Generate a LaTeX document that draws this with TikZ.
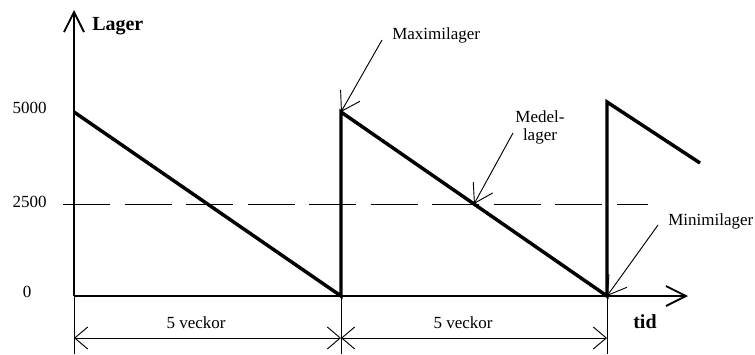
\documentclass[tikz,border=0pt]{standalone}
\usepackage{fontspec}
\setmainfont{Liberation Serif}
\usetikzlibrary{arrows.meta}
\begin{document}
\begin{tikzpicture}[x=0.75pt,y=-0.75pt,
  axis/.style={line width=1.4pt},
  axisarrow/.style={axis,-{Straight Barb[length=15pt,width=15pt]}},
  stock/.style={line width=2.6pt,line join=miter},
  thin/.style={line width=0.7pt},
  level/.style={thin,dash pattern=on 35.25pt off 10.9pt},
  callout/.style={thin,-{Straight Barb[length=13.4pt,width=16.7pt]}},
  dimline/.style={thin,{Straight Barb[length=9.75pt,width=16.5pt]}-{Straight Barb[length=9.75pt,width=16.5pt]}},
  lbl/.style={font=\fontsize{12.75}{15}\selectfont,inner sep=0pt},
  axlbl/.style={font=\fontsize{15}{17}\selectfont\bfseries,inner sep=0pt}]
\useasboundingbox (0,0) rectangle (755,354);

% axes
\coordinate (origin) at (74,296);
\coordinate (ytop) at (74,10);
\coordinate (xend) at (688,296);
\draw[axisarrow] (origin) -- (ytop);
\draw[axisarrow] (origin) -- (xend);
\node[axlbl,anchor=base west] (ylab) at (92,30) {Lager};
\node[axlbl,anchor=base west] (xlab) at (633,328) {tid};

% value labels
\node[lbl,anchor=base east] (v5000) at (47,113) {5000};
\node[lbl,anchor=base east] (v2500) at (47,207) {2500};
\node[lbl,anchor=base] (v0) at (27,297) {0};

% average stock level
\coordinate (avgA) at (63,204);
\coordinate (avgB) at (648,204);
\draw[level] (avgA) -- (avgB);

% stock curve
\coordinate (s0) at (74,112);
\coordinate (s1) at (341,296);
\coordinate (s2) at (341,112);
\coordinate (s3) at (607,296);
\coordinate (s4) at (607,102);
\coordinate (s5) at (700,163);
\coordinate (smid) at (474,204);
\draw[stock] (s0) -- (s1) -- (s2) -- (s3) -- (s4) -- (s5);

% callouts
\node[lbl,anchor=base west] (maxlab) at (392,39) {Maximilager};
\node[lbl,align=center,anchor=north] (medlab) at (540,110) {Medel-\\[-1.5pt]lager};
\node[lbl,anchor=base west] (minlab) at (668,225) {Minimilager};
\coordinate (maxtail) at (382,40);
\coordinate (medtail) at (513,133);
\coordinate (mintail) at (658,225);
\draw[callout] (maxtail) -- (s2);
\draw[callout] (medtail) -- (smid);
\draw[callout] (mintail) -- (s3);

% period dimensions
\coordinate (e0) at (74,354);
\coordinate (e1) at (341,354);
\coordinate (e2) at (607,354);
\draw[thin] (origin) -- (e0);
\draw[thin] (s1) -- (e1);
\draw[thin] (s3) -- (e2);
\coordinate (d0) at (74,338);
\coordinate (d1) at (341,338);
\coordinate (d2) at (607,338);
\draw[dimline] (d0) -- (d1);
\draw[dimline] (d1) -- (d2);
\node[lbl,anchor=base] (w1) at (196,328) {5 veckor};
\node[lbl,anchor=base] (w2) at (463,328) {5 veckor};
\end{tikzpicture}
\end{document}
